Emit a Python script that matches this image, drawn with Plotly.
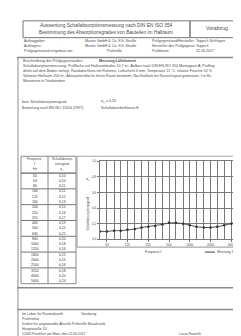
import plotly.graph_objects as go
import math

W, H = 241, 336

# ---- data ----
freqs = [50, 63, 80, 100, 125, 160, 200, 250, 315, 400, 500, 630, 800, 1000,
         1250, 1600, 2000, 2500, 3150, 4000, 5000]
alpha_s = [0.10, 0.10, 0.11, 0.11, 0.12, 0.13, 0.15, 0.16, 0.17, 0.19, 0.21,
           0.21, 0.20, 0.18, 0.16, 0.15, 0.15, 0.16, 0.18, 0.20, 0.24]
xtick_vals = [63, 125, 250, 500, 1000, 2000, 4000]
ytick_vals = [0.0, 0.2, 0.4, 0.6, 0.8, 1.0]

def X(p):
    return p / W

def Y(p):
    return 1 - p / H

TXT = "#4a4a4a"
LINE = "#9a9a9a"
FONT = "Liberation Sans, Arial, sans-serif"

fig = go.Figure()
fig.add_trace(go.Scatter(
    x=freqs, y=alpha_s, mode="lines+markers",
    line=dict(color="#555555", width=1),
    marker=dict(size=2.5, color="#333333"),
    showlegend=False))

annotations = []
shapes = []

def txt(x, y, s, size=3.6, anchor="left", color=TXT, angle=0):
    annotations.append(dict(x=X(x), y=Y(y), xref="paper", yref="paper", text=s,
                            showarrow=False, xanchor=anchor, yanchor="middle",
                            textangle=angle, borderpad=0,
                            font=dict(size=size, color=color, family=FONT)))

def line(x0, y0, x1, y1, color=LINE, width=1):
    shapes.append(dict(type="line", xref="paper", yref="paper",
                       x0=X(x0), y0=Y(y0), x1=X(x1), y1=Y(y1),
                       line=dict(color=color, width=width)))

def rect(x0, y0, x1, y1, color=LINE, width=1):
    shapes.append(dict(type="rect", xref="paper", yref="paper",
                       x0=X(x0), y0=Y(y0), x1=X(x1), y1=Y(y1),
                       line=dict(color=color, width=width)))

# ---- header ----
rect(15, 11, 182, 28, color="#777777")
rect(182, 11, 236, 28, color="#777777")
txt(98, 15.5, "Auswertung Schallabsorptionsmessung nach DIN EN ISO 354", 4.8, "center")
txt(98, 23, "Bestimmung des Absorptionsgrades von Bauteilen im Hallraum", 4.8, "center")
txt(209, 18, "Vorabzug", 5.2, "center")

txt(15, 31, "Auftraggeber:")
txt(76, 31, "Muster GmbH & Co. KG, Straße")
txt(143, 31, "Prüfgegenstand/Hersteller")
txt(187, 31, "Teppich Schlingen")
txt(15, 36, "Auftragsnr.:")
txt(76, 36, "Muster GmbH & Co. KG, Straße")
txt(143, 36, "Hersteller des Prüfgegenst.")
txt(187, 36, "Teppich")
txt(15, 41, "Prüfgegenstand eingebaut am:")
txt(98, 41, "Prüfstelle")
txt(143, 41, "Prüfdatum:")
txt(187, 41, "22.06.2017")

# ---- frame ----
line(9, 48, 240, 48, color="#8a8a8a", width=1.5)
line(10, 48, 10, 336, color="#a0a0a0", width=1.2)
line(239, 48, 239, 336, color="#8a8a8a", width=1.5)
line(9, 281, 240, 281, color="#8a8a8a", width=1.5)
line(9, 303, 240, 303, color="#8a8a8a", width=1.5)

# ---- description ----
txt(14, 52, "Beschreibung des Prüfgegenstandes:")
txt(90, 52, "<b>Messung Lüftelement</b>")
txt(14, 57, "Schallabsorptionsmessung: Prüffläche auf Hallraumboden 10,7 m², Aufbau nach DIN EN ISO 354 Montageart A, Prüfling")
txt(14, 62, "direkt auf dem Boden verlegt, Randabschluss mit Rahmen, Luftschicht 0 mm, Temperatur 21 °C, relative Feuchte 52 %")
txt(14, 67, "Volumen Hallraum 200 m³, Absorptionsfläche leerer Raum bestimmt, Nachhallzeit mit Rauschsignal gemessen, f in Hz")
txt(14, 72, "Messwerte in Terzbändern")

txt(13, 93, "bew. Schallabsorptionsgrad:")
txt(92, 93, "α<sub>w</sub> = 0,20")
txt(13, 99, "Bewertung nach EN ISO 11654 (1997):")
txt(92, 99, "Schallabsorberklasse E")

# ---- table ----
tx0, tx1, tx2 = 13, 40, 68
ty0, tyh = 148, 165
row_h = (277 - tyh) / len(freqs)
ty_end = tyh + row_h * len(freqs)
rect(tx0, ty0, tx2, ty_end, color="#888888")
line(tx1, ty0, tx1, ty_end, color="#888888")
line(tx0, tyh, tx2, tyh, color="#666666", width=1.2)
for g in range(3, len(freqs), 3):
    yy = tyh + g * row_h
    line(tx0, yy, tx2, yy, color="#777777", width=1)
txt((tx0 + tx1) / 2, 151, "Frequenz", 3.4, "center")
txt((tx0 + tx1) / 2, 156, "f", 3.4, "center")
txt((tx0 + tx1) / 2, 161, "Hz", 3.4, "center")
txt((tx1 + tx2) / 2, 151, "Schallabsorp-", 3.4, "center")
txt((tx1 + tx2) / 2, 156, "tionsgrad", 3.4, "center")
txt((tx1 + tx2) / 2, 161, "α<sub>s</sub>", 3.4, "center")
for i, (f, a) in enumerate(zip(freqs, alpha_s)):
    yc = tyh + (i + 0.5) * row_h
    txt((tx0 + tx1) / 2, yc, str(f), 3.4, "center", color="#333333")
    txt((tx1 + tx2) / 2, yc, f"{a:.2f}".replace(".", ","), 3.4, "center", color="#333333")

# ---- chart box ----
rect(69, 148, 236, 240, color="#a8a8a8", width=1.2)
txt(145, 245, "Frequenz f", 3.4, "center")
line(197, 245, 207, 245, color="#444444", width=1)
txt(208, 245, "Messung", 3.4)
txt(223, 245, "Hz", 3.4)
txt(80, 172, "α<sub>s</sub>", 3.6, "center")
txt(80, 206, "Schallabsorptionsgrad", 3.4, "center", angle=-90)

# ---- footer ----
txt(13, 308, "Im Labor für Raumakustik")
txt(72, 308, "Vorabzug")
txt(13, 313, "Prüfinstitut")
txt(13, 318, "Institut für angewandte Akustik Prüfstelle Bauakustik")
txt(13, 323, "Hauptstraße 10")
txt(13, 328, "12345 Frankfurt am Main, den 22.06.2017", 3.4)
txt(170, 328, "Laura Ronzelli", 3.4)

fig.update_layout(
    width=W, height=H,
    margin=dict(l=0, r=0, t=0, b=0),
    paper_bgcolor="white", plot_bgcolor="white",
    annotations=annotations, shapes=shapes,
    xaxis=dict(type="log", domain=[X(92), X(230)],
               range=[math.log10(50), math.log10(5000)],
               tickvals=xtick_vals, ticktext=[str(v) for v in xtick_vals],
               showgrid=True, gridcolor="#7a7a7a", gridwidth=0.8,
               minor=dict(tickvals=freqs, showgrid=True, gridcolor="#7a7a7a", gridwidth=0.8),
               tickfont=dict(size=3.2, color=TXT, family=FONT),
               ticks="outside", ticklen=2, tickcolor="#777777",
               showline=True, linecolor="#7a7a7a", mirror=True, zeroline=False),
    yaxis=dict(domain=[Y(232), Y(153)], range=[0, 1.0],
               tickvals=ytick_vals,
               ticktext=[f"{v:.1f}".replace(".", ",") for v in ytick_vals],
               showgrid=True, gridcolor="#7a7a7a", gridwidth=0.8,
               tickfont=dict(size=3.2, color=TXT, family=FONT),
               ticks="outside", ticklen=2, tickcolor="#777777",
               showline=True, linecolor="#7a7a7a", mirror=True, zeroline=False),
)

fig.write_html("out.html")
